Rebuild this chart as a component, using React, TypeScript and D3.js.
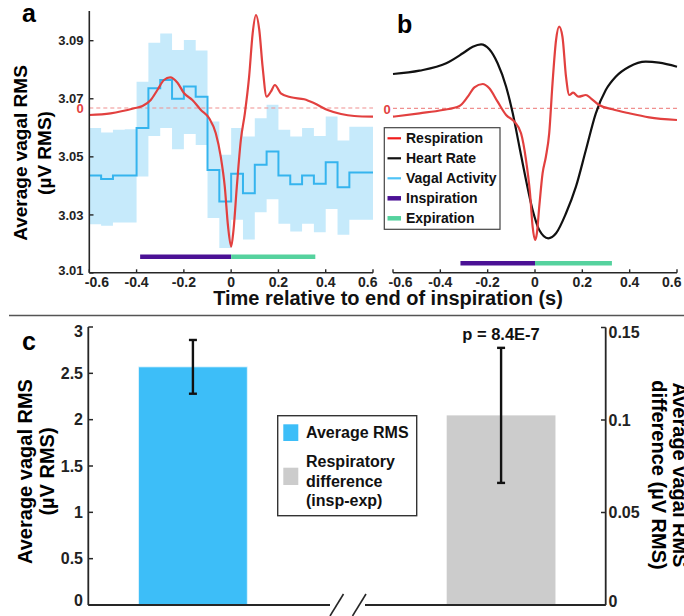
import React from 'react';
import * as d3 from 'd3';

const FONT = "'Liberation Sans', Arial, Helvetica, sans-serif";

// ---- Panel a: vagal activity in 0.05 s bins (µV RMS) ----
const vagalBinStart = [-0.6, -0.55, -0.5, -0.45, -0.4, -0.35, -0.3, -0.25, -0.2, -0.15, -0.1, -0.05,
  0, 0.05, 0.1, 0.15, 0.2, 0.25, 0.3, 0.35, 0.4, 0.45, 0.5, 0.55];
const vagalMean = [3.0436, 3.0424, 3.0436, 3.0436, 3.0599, 3.0736, 3.0765, 3.07, 3.0742, 3.0707, 3.0455, 3.0346,
  3.0442, 3.0375, 3.0473, 3.0518, 3.0436, 3.0406, 3.0436, 3.0407, 3.0481, 3.0395, 3.0446, 3.0446];
const vagalUpper = [3.0599, 3.0584, 3.0593, 3.0595, 3.0759, 3.0893, 3.0925, 3.0868, 3.0902, 3.0866, 3.0622, 3.0507,
  3.0599, 3.057, 3.0633, 3.0679, 3.0593, 3.057, 3.0599, 3.0572, 3.0639, 3.0556, 3.0604, 3.0604];
const vagalLower = [3.0268, 3.0263, 3.0274, 3.0274, 3.0432, 3.0572, 3.0599, 3.0526, 3.0579, 3.0541, 3.0289, 3.0186,
  3.0283, 3.0215, 3.0309, 3.0354, 3.027, 3.0243, 3.027, 3.024, 3.032, 3.0232, 3.0283, 3.0283];
const vagalEnd = 0.6;

// Respiration (normalised, 0 = mean level) for panel a
const respATime = [-0.6, -0.51, -0.41, -0.375, -0.34, -0.312, -0.284, -0.258, -0.227, -0.199, -0.164, -0.128,
  -0.093, -0.065, -0.044, -0.027, -0.013, 0, 0.01, 0.024, 0.041, 0.058, 0.076, 0.091, 0.105, 0.119, 0.133,
  0.15, 0.168, 0.185, 0.21, 0.253, 0.309, 0.352, 0.408, 0.465, 0.521, 0.6];
const respAValue = [-0.07, -0.053, -0.003, 0.02, 0.08, 0.18, 0.28, 0.307, 0.253, 0.147, 0.08, -0.02,
  -0.103, -0.253, -0.487, -0.787, -1.187, -1.387, -1.22, -0.787, -0.32, -0.053, 0.313, 0.747, 0.93, 0.78, 0.413,
  0.113, 0.163, 0.23, 0.147, 0.107, 0.087, 0.047, -0.02, -0.06, -0.08, -0.087];

// Panel b: respiration and heart rate (normalised)
const respBTime = [-0.6, -0.488, -0.39, -0.319, -0.284, -0.256, -0.221, -0.193, -0.158, -0.122, -0.087, -0.059,
  -0.038, -0.021, -0.01, 0, 0.008, 0.018, 0.032, 0.046, 0.06, 0.074, 0.089, 0.102, 0.116, 0.131, 0.145, 0.161,
  0.184, 0.215, 0.236, 0.271, 0.327, 0.398, 0.482, 0.6];
const respBValue = [-0.084, -0.05, -0.017, 0.023, 0.116, 0.21, 0.243, 0.2, 0.066, -0.067, -0.134, -0.25,
  -0.517, -0.85, -1.184, -1.317, -1.25, -0.984, -0.65, -0.484, -0.25, 0.25, 0.683, 0.816, 0.716, 0.316, 0.133, 0.156,
  0.116, 0.133, 0.1, 0.033, -0.01, -0.05, -0.09, -0.117];
const hrBTime = [-0.6, -0.488, -0.375, -0.305, -0.263, -0.228, -0.193, -0.158, -0.122, -0.094, -0.066, -0.038,
  -0.01, 0.018, 0.056, 0.089, 0.131, 0.173, 0.215, 0.257, 0.299, 0.341, 0.398, 0.468, 0.524, 0.6];
const hrBValue = [0.343, 0.376, 0.45, 0.55, 0.616, 0.64, 0.59, 0.45, 0.216, -0.05, -0.384, -0.717,
  -1.017, -1.217, -1.3, -1.25, -1.05, -0.784, -0.417, -0.05, 0.183, 0.316, 0.416, 0.466, 0.456, 0.416];

const phasesA = [
  { name: 'Inspiration', start: -0.385, end: 0 },
  { name: 'Expiration', start: 0, end: 0.356 },
];
const phasesB = [
  { name: 'Inspiration', start: -0.315, end: 0 },
  { name: 'Expiration', start: 0, end: 0.325 },
];

const timeTicks = [-0.6, -0.4, -0.2, 0, 0.2, 0.4, 0.6];
const vagalTicks = [3.01, 3.03, 3.05, 3.07, 3.09];

// ---- Panel c ----
const barCategories = ['Average RMS', 'Respiratory difference'];
const barValues = [2.57, 0.1025];
const barErrors = [0.29, 0.0365];
const leftTicks = [0, 0.5, 1, 1.5, 2, 2.5, 3];
const rightTicks = [0, 0.05, 0.1, 0.15];
const pValueLabel = 'p = 8.4E-7';

const C = {
  red: '#e2403f',
  redDash: '#f0908f',
  blue: '#35b4ee',
  band: '#c6eafb',
  purple: '#4b1195',
  green: '#55d29e',
  black: '#111111',
  axis: '#262626',
  barBlue: '#3dbef8',
  barGray: '#cccccc',
};

const legendB = [
  { label: 'Respiration', color: '#f01c1c', w: 2.2 },
  { label: 'Heart Rate', color: '#111111', w: 2.2 },
  { label: 'Vagal Activity', color: '#4fc3f7', w: 2.2 },
  { label: 'Inspiration', color: C.purple, w: 4.5 },
  { label: 'Expiration', color: C.green, w: 4.5 },
];

const fmtTime = (t: number) => String(+t.toFixed(1));

export default function App() {
  // Scales
  const xA = d3.scaleLinear().domain([-0.6, 0.6]).range([89.3, 373]);
  const xB = d3.scaleLinear().domain([-0.6, 0.6]).range([393, 677]);
  const yA = d3.scaleLinear().domain([3.01, 3.09]).range([273, 40.7]);
  const yRespA = d3.scaleLinear().domain([-1.5, 1]).range([258, 8]);
  const yRespB = d3.scaleLinear().domain([-1.5, 1]).range([258.3, 8.3]);
  const axisY = 272.8;

  const stepPts = (vals: number[]) =>
    vagalBinStart.map((t, i) => [t, vals[i]] as [number, number]).concat([[vagalEnd, vals[vals.length - 1]]]);

  const bandArea = d3.area<number>()
    .x((i) => xA(i < vagalBinStart.length ? vagalBinStart[i] : vagalEnd))
    .y0((i) => yA(vagalLower[Math.min(i, vagalLower.length - 1)]))
    .y1((i) => yA(vagalUpper[Math.min(i, vagalUpper.length - 1)]))
    .curve(d3.curveStepAfter);
  const bandIdx = d3.range(vagalBinStart.length + 1);

  const meanLine = d3.line<[number, number]>()
    .x((d) => xA(d[0])).y((d) => yA(d[1])).curve(d3.curveStepAfter);

  const smooth = (xs: d3.ScaleLinear<number, number>, ys: d3.ScaleLinear<number, number>, t: number[], v: number[]) =>
    d3.line<number>().x((i) => xs(t[i])).y((i) => ys(v[i])).curve(d3.curveMonotoneX)(d3.range(t.length)) || '';

  // Panel c scales
  const xC = d3.scaleBand().domain(barCategories).range([88.3, 605.7]).paddingInner(0.647).paddingOuter(0.163);
  const yL = d3.scaleLinear().domain([0, 3]).range([605, 327]);
  const yR = d3.scaleLinear().domain([0, 0.15]).range([605, 327.5]);
  const barScales = [yL, yR];
  const barColors = [C.barBlue, C.barGray];

  const bold = { fontFamily: FONT, fontWeight: 700 } as const;

  const timeAxis = (xs: d3.ScaleLinear<number, number>) => (
    <g>
      <line x1={xs(-0.6)} x2={xs(0.6)} y1={axisY} y2={axisY} stroke={C.axis} strokeWidth={1.6} />
      {timeTicks.map((t, i) => {
        const first = i === 0;
        const last = i === timeTicks.length - 1;
        const lx = first ? xs(t) - 4.5 : last ? xs(t) + 4.5 : xs(t);
        const anchor = first ? 'start' : last ? 'end' : 'middle';
        return (
          <g key={t}>
            <line x1={xs(t)} x2={xs(t)} y1={axisY} y2={axisY - 3.5} stroke={C.axis} strokeWidth={1.4} />
            <text x={lx} y={287} textAnchor={anchor} fontSize={14} fill="#222" {...bold}>{fmtTime(t)}</text>
          </g>
        );
      })}
    </g>
  );

  const phaseBars = (xs: d3.ScaleLinear<number, number>, y: number, phases: typeof phasesA) =>
    phases.map((p, i) => (
      <line key={p.name} x1={xs(p.start)} x2={xs(p.end)} y1={y} y2={y}
        stroke={i === 0 ? C.purple : C.green} strokeWidth={4.5} />
    ));

  return (
    <svg width={684} height={616} style={{ position: 'absolute', left: 0, top: 0, background: '#fff' }}>
      <rect width={684} height={616} fill="#fff" />

      {/* ---------- Panel a ---------- */}
      <text x={22} y={22} fontSize={25} {...bold}>a</text>
      <path d={bandArea(bandIdx) || ''} fill={C.band} />
      <line x1={xA(-0.6)} x2={xA(0.6)} y1={yRespA(0)} y2={yRespA(0)} stroke={C.redDash} strokeWidth={1.2} strokeDasharray="4 3" />
      <text x={80} y={112.5} textAnchor="middle" fontSize={13} fill={C.red} {...bold}>0</text>
      <path d={meanLine(stepPts(vagalMean)) || ''} fill="none" stroke={C.blue} strokeWidth={2} />
      <path d={smooth(xA, yRespA, respATime, respAValue)} fill="none" stroke={C.red} strokeWidth={2.2} />
      {phaseBars(xA, 256.7, phasesA)}
      {/* y axis */}
      <line x1={89.3} x2={89.3} y1={11} y2={axisY} stroke={C.axis} strokeWidth={1.6} />
      {vagalTicks.map((v, i) => (
        <g key={v}>
          <line x1={89.3} x2={93.5} y1={yA(v)} y2={yA(v)} stroke={C.axis} strokeWidth={1.4} />
          <text x={83.5} y={yA(v) + 4.6 - (i === 0 ? 3 : 0)} textAnchor="end" fontSize={13} fill="#222" {...bold}>{v.toFixed(2)}</text>
        </g>
      ))}
      {timeAxis(xA)}
      <text transform="translate(27,153) rotate(-90)" textAnchor="middle" fontSize={19} {...bold}>Average vagal RMS</text>
      <text transform="translate(51,153) rotate(-90)" textAnchor="middle" fontSize={19} {...bold}>(µV RMS)</text>

      {/* ---------- Panel b ---------- */}
      <text x={397} y={33} fontSize={25} {...bold}>b</text>
      <line x1={xB(-0.6)} x2={xB(0.6)} y1={yRespB(0)} y2={yRespB(0)} stroke={C.redDash} strokeWidth={1.2} strokeDasharray="4 3" />
      <text x={387} y={113.5} textAnchor="middle" fontSize={13} fill={C.red} {...bold}>0</text>
      <path d={smooth(xB, yRespB, hrBTime, hrBValue)} fill="none" stroke={C.black} strokeWidth={2.2} />
      <path d={smooth(xB, yRespB, respBTime, respBValue)} fill="none" stroke={C.red} strokeWidth={2.2} />
      {phaseBars(xB, 263.3, phasesB)}
      {timeAxis(xB)}
      {/* legend */}
      <rect x={384.3} y={127.7} width={115.7} height={101.6} fill="#fff" stroke="#444" strokeWidth={1.2} />
      {legendB.map((e, i) => (
        <g key={e.label}>
          <line x1={387.5} x2={401} y1={138.3 + 20 * i} y2={138.3 + 20 * i} stroke={e.color} strokeWidth={e.w} />
          <text x={406} y={143.3 + 20 * i} fontSize={14} fill="#111" {...bold}>{e.label}</text>
        </g>
      ))}

      <text x={388} y={304.5} textAnchor="middle" fontSize={20} fill="#111" {...bold}>Time relative to end of inspiration (s)</text>

      {/* separator */}
      <line x1={9} x2={684} y1={315.5} y2={315.5} stroke="#555" strokeWidth={1.6} />

      {/* ---------- Panel c ---------- */}
      <text x={22} y={350} fontSize={25} {...bold}>c</text>
      {barCategories.map((c, i) => {
        const ys = barScales[i];
        const x0 = xC(c) as number;
        const cx = x0 + xC.bandwidth() / 2;
        const v = barValues[i];
        const e = barErrors[i];
        return (
          <g key={c}>
            <rect x={x0} y={ys(v)} width={xC.bandwidth()} height={ys(0) - ys(v)} fill={barColors[i]}
              stroke="#e6f6fd" strokeOpacity={i === 0 ? 0.8 : 0} strokeWidth={1} />
            <line x1={cx} x2={cx} y1={ys(v + e)} y2={ys(v - e)} stroke="#111" strokeWidth={2.4} />
            <line x1={cx - 4} x2={cx + 4} y1={ys(v + e)} y2={ys(v + e)} stroke="#111" strokeWidth={2.4} />
            <line x1={cx - 4} x2={cx + 4} y1={ys(v - e)} y2={ys(v - e)} stroke="#111" strokeWidth={2.4} />
          </g>
        );
      })}
      <text x={501} y={340} textAnchor="middle" fontSize={16.5} fill="#111" {...bold}>{pValueLabel}</text>

      {/* left axis */}
      <line x1={88.3} x2={88.3} y1={yL(3)} y2={yL(0)} stroke={C.axis} strokeWidth={1.8} />
      {leftTicks.map((v, i) => (
        <g key={v}>
          <line x1={88.3} x2={93} y1={yL(v)} y2={yL(v)} stroke={C.axis} strokeWidth={1.5} />
          <text x={83} y={yL(v) + 5.5 + (i === leftTicks.length - 1 ? 4.5 : 0) - (i === 0 ? 5 : 0)}
            textAnchor="end" fontSize={16} fill="#222" {...bold}>{String(v)}</text>
        </g>
      ))}
      {/* right axis */}
      <line x1={605.7} x2={605.7} y1={yR(0.15)} y2={yR(0)} stroke={C.axis} strokeWidth={1.8} />
      {rightTicks.map((v, i) => (
        <g key={v}>
          <line x1={605.7} x2={601} y1={yR(v)} y2={yR(v)} stroke={C.axis} strokeWidth={1.5} />
          <text x={608.5} y={yR(v) + 5.5 + (i === rightTicks.length - 1 ? 5 : 0) - (i === 0 ? 4 : 0)}
            textAnchor="start" fontSize={16} fill="#222" {...bold}>{String(v)}</text>
        </g>
      ))}
      {/* broken bottom axis */}
      <line x1={88.3} x2={330} y1={605} y2={605} stroke={C.axis} strokeWidth={1.8} />
      <line x1={365} x2={605.7} y1={605} y2={605} stroke={C.axis} strokeWidth={1.8} />
      <line x1={330} x2={343.5} y1={616} y2={594} stroke={C.axis} strokeWidth={1.6} />
      <line x1={352.5} x2={366} y1={616} y2={594} stroke={C.axis} strokeWidth={1.6} />

      <text transform="translate(31.5,471.5) rotate(-90)" textAnchor="middle" fontSize={20} {...bold}>Average vagal RMS</text>
      <text transform="translate(54,471.5) rotate(-90)" textAnchor="middle" fontSize={20} {...bold}>(µV RMS)</text>
      <text transform="translate(673,475) rotate(90)" textAnchor="middle" fontSize={20} {...bold}>Average vagal RMS</text>
      <text transform="translate(652,475) rotate(90)" textAnchor="middle" fontSize={20} {...bold}>difference (µV RMS)</text>

      {/* legend c */}
      <rect x={277.7} y={415.7} width={139} height={100} fill="#fff" stroke="#333" strokeWidth={1.4} />
      <rect x={283.3} y={424.3} width={15} height={16.7} fill={C.barBlue} />
      <rect x={283.3} y={467.7} width={15} height={17.3} fill={C.barGray} />
      <text x={306} y={437.7} fontSize={16} fill="#111" {...bold}>Average RMS</text>
      <text x={306} y={466.7} fontSize={16} fill="#111" {...bold}>Respiratory</text>
      <text x={306} y={486.7} fontSize={16} fill="#111" {...bold}>difference</text>
      <text x={306} y={506} fontSize={16} fill="#111" {...bold}>(insp-exp)</text>
    </svg>
  );
}
